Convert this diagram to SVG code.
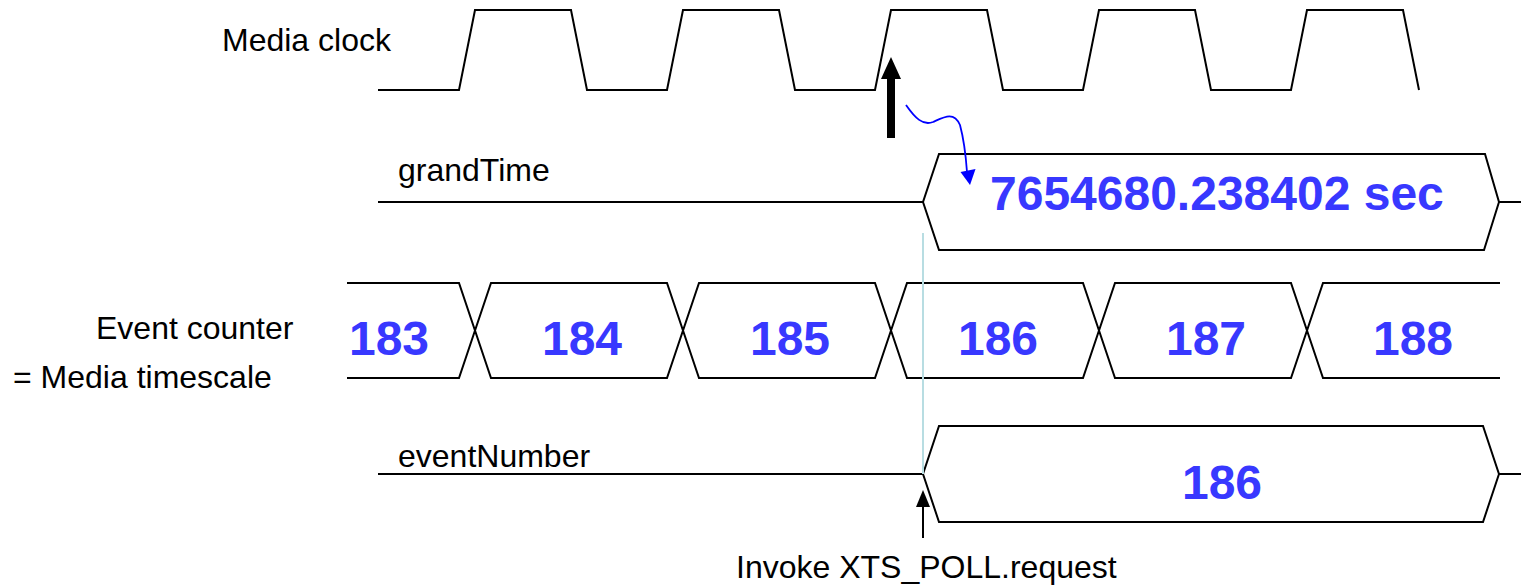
<svg xmlns="http://www.w3.org/2000/svg" width="1521" height="585" viewBox="0 0 1521 585">
<style>
.sig{fill:none;stroke:#000;stroke-width:2;stroke-linejoin:miter}
.lbl{font-family:"Liberation Sans",Arial,sans-serif;font-size:32px;fill:#000}
.val{font-family:"Liberation Sans",Arial,sans-serif;font-size:48px;font-weight:bold;fill:#3838ff}
</style>
<rect width="1521" height="585" fill="#fff"/>
<g id="media-clock">
<text class="lbl" x="222" y="51">Media clock</text>
<path class="sig" d="M378,90 L459,90 L475,10 L571,10 L587,90 L667,90 L683,10 L779,10 L795,90 L875,90 L891,10 L987,10 L1003,90 L1083,90 L1099,10 L1195,10 L1211,90 L1291,90 L1307,10 L1403,10 L1419,90"/>
</g>
<g id="grandtime">
<text class="lbl" x="398" y="181">grandTime</text>
<path class="sig" d="M378,202 L923,202 L939,154 L1485,154 L1499,202 L1521,202 M923,202 L939,250 L1484,250 L1499,202"/>
<text class="val" x="990" y="210">7654680.238402 sec</text>
</g>
<g id="event-counter">
<text class="lbl" x="96" y="339">Event counter</text>
<text class="lbl" x="13" y="388">= Media timescale</text>
<path class="sig" d="M347,283 L459,283 L491,378 L667,378 L699,283 L875,283 L907,378 L1083,378 L1115,283 L1291,283 L1323,378 L1500,378 M347,378 L459,378 L491,283 L667,283 L699,378 L875,378 L907,283 L1083,283 L1115,378 L1291,378 L1323,283 L1500,283"/>
<text class="val" x="389" y="355" text-anchor="middle">183</text>
<text class="val" x="582" y="355" text-anchor="middle">184</text>
<text class="val" x="790" y="355" text-anchor="middle">185</text>
<text class="val" x="998" y="355" text-anchor="middle">186</text>
<text class="val" x="1206" y="355" text-anchor="middle">187</text>
<text class="val" x="1413" y="355" text-anchor="middle">188</text>
</g>
<g id="event-number">
<text class="lbl" x="398" y="467">eventNumber</text>
<path class="sig" d="M378,474 L923,474 L939,426 L1483,426 L1499,474 L1521,474 M923,474 L939,522 L1483,522 L1499,474"/>
<text class="val" x="1222" y="499" text-anchor="middle">186</text>
</g>
<g id="poll-label">
<text class="lbl" x="736" y="578">Invoke XTS_POLL.request</text>
</g>
<g id="connectors">
<line x1="923" y1="233" x2="923" y2="474" stroke="#b8dde2" stroke-width="2"/>
<rect x="887" y="76" width="8" height="62" fill="#000"/>
<polygon points="891,57 881,79 901,79" fill="#000"/>
<path d="M906,105 C915,118 923,126 933,122 C944,117 954,111 960,125 C964,140 966,158 967,172" fill="none" stroke="#0000ff" stroke-width="1.8"/>
<polygon points="970,185 960.5,172 975.5,169" fill="#0000ff"/>
<line x1="923" y1="538" x2="923" y2="504" stroke="#000" stroke-width="2"/>
<polygon points="923,490 916,507 930,507" fill="#000"/>
</g>
</svg>
